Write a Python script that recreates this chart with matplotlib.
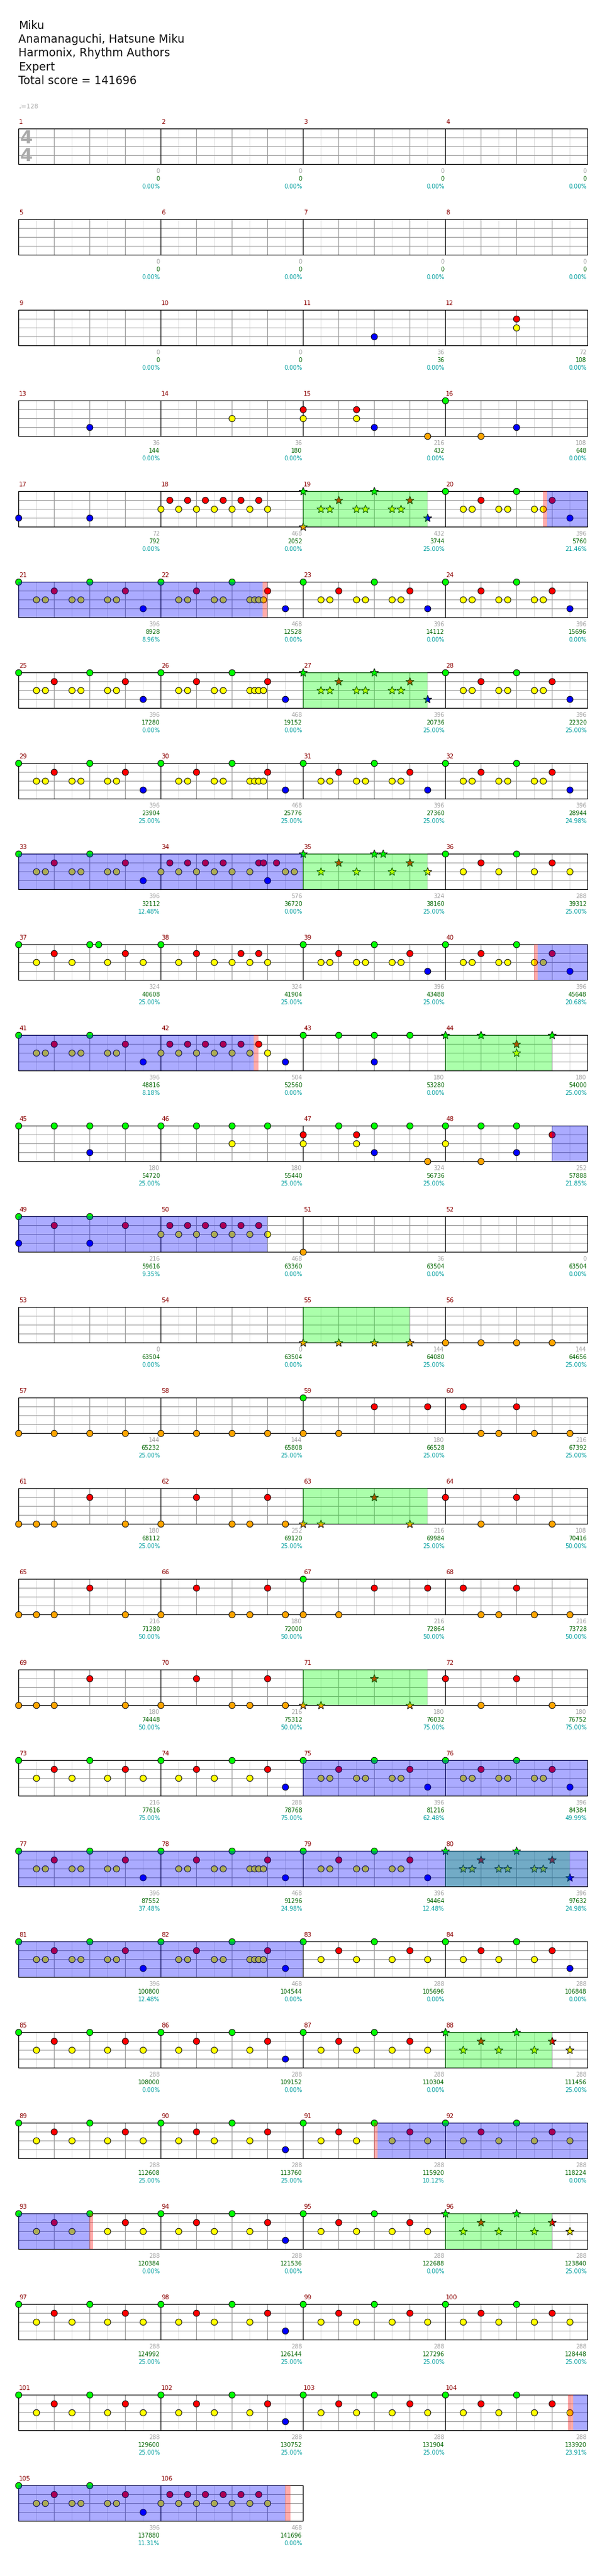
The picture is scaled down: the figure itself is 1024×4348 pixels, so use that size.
import matplotlib
matplotlib.use("Agg")
import matplotlib.pyplot as plt
from matplotlib.patches import Rectangle

# page geometry (pixels)
W, H = 1024, 4348
LEFT_PX = 31      # left edge of the staves
BEAT_PX = 60      # one quarter note
LANE_PX = 15      # gap between lanes
TOP_PX = 217.3    # top of the first staff
ROW_PX = 153      # distance between staves
ROW_U = ROW_PX / LANE_PX

song = "Miku"
artist = "Anamanaguchi, Hatsune Miku"
charter = "Harmonix, Rhythm Authors"
difficulty = "Expert"
total_score = 141696
tempo = 128
n_measures = 106
per_row = 4

lane_names = "GRYBO"
lane_colors = ["#00ff00", "#ff0000", "#ffff00", "#0000ff", "#ffa500"]

# recurring patterns: (beat in measure, lanes)
pat_p = [(0, "G"), (0.5, "Y"), (0.75, "Y"), (1, "R"), (1.5, "Y"), (1.75, "Y"),
         (2, "G"), (2.5, "Y"), (2.75, "Y"), (3, "R"), (3.5, "B")]
pat_q = [(0, "G"), (0.5, "Y"), (0.75, "Y"), (1, "R"), (1.5, "Y"), (1.75, "Y"),
         (2, "G"), (2.5, "Y"), (2.625, "Y"), (2.75, "Y"), (2.875, "Y"), (3, "R"), (3.5, "B")]
pat_t = [(0, "Y"), (0.25, "R"), (0.5, "Y"), (0.75, "R"), (1, "Y"), (1.25, "R"), (1.5, "Y"),
         (1.75, "R"), (2, "Y"), (2.25, "R"), (2.5, "Y"), (2.75, "R"), (3, "Y")]
pat_s = [(0, "G"), (0.5, "Y"), (1, "R"), (1.5, "Y"), (2, "G"), (2.5, "Y"), (3, "R"), (3.5, "Y")]
pat_sb = [(0, "G"), (0.5, "Y"), (1, "R"), (1.5, "Y"), (2, "G"), (2.5, "Y"), (3, "R"), (3.5, "B")]
pat_v = [(0, "G"), (0.5, "Y"), (1, "R"), (1.5, "Y"), (2, "G"), (2.25, "G"), (2.5, "Y"), (3, "R"), (3.5, "Y")]
pat_34 = [(0, "Y"), (0.25, "R"), (0.5, "Y"), (0.75, "R"), (1, "Y"), (1.25, "R"), (1.5, "Y"), (1.75, "R"),
          (2, "Y"), (2.5, "Y"), (2.75, "R"), (2.875, "R"), (3, "B"), (3.25, "R"), (3.5, "Y"), (3.75, "Y")]
pat_38 = [(0, "G"), (0.5, "Y"), (1, "R"), (1.5, "Y"), (2, "Y"), (2.25, "R"), (2.5, "Y"), (2.75, "R"), (3, "Y")]
pat_orange4 = [(0, "O"), (1, "O"), (2, "O"), (3, "O")]
pat_oa = [(0, "O"), (0.5, "O"), (1, "O"), (2, "R"), (3, "O")]
pat_ob = [(0, "O"), (1, "R"), (2, "O"), (2.5, "O"), (3, "R"), (3.5, "O")]
pat_oc = [(0, "O"), (0.5, "O"), (2, "R"), (3, "O")]
pat_od = [(0, "R"), (1, "O"), (2, "R"), (3, "O")]

measure_notes = {
    11: [(2, "B")], 12: [(2, "RY")], 13: [(2, "B")], 14: [(2, "Y")],
    15: [(0, "RY"), (1.5, "RY"), (2, "B"), (3.5, "O")], 16: [(0, "G"), (1, "O"), (2, "B")],
    17: [(0, "B"), (2, "B")], 18: pat_t, 19: [(0, "GO")] + pat_p[1:], 20: pat_p,
    21: pat_p, 22: pat_q, 23: pat_p, 24: pat_p,
    25: pat_p, 26: pat_q, 27: pat_p, 28: pat_p,
    29: pat_p, 30: pat_q, 31: pat_p, 32: pat_p,
    33: pat_p, 34: pat_34, 35: pat_v, 36: pat_s,
    37: pat_v, 38: pat_38, 39: pat_p, 40: pat_p,
    41: pat_p, 42: pat_t + [(3.5, "B")], 43: [(0, "G"), (1, "G"), (2, "GB"), (3, "G")],
    44: [(0, "G"), (1, "G"), (2, "RY"), (3, "G")],
    45: [(0, "G"), (1, "G"), (2, "GB"), (3, "G")], 46: [(0, "G"), (1, "G"), (2, "GY"), (3, "G")],
    47: [(0, "RY"), (1, "G"), (1.5, "RY"), (2, "GB"), (3, "G"), (3.5, "O")],
    48: [(0, "GY"), (1, "GO"), (2, "GB"), (3, "R")],
    49: [(0, "GB"), (1, "R"), (2, "GB"), (3, "R")], 50: pat_t, 51: [(0, "O")],
    55: pat_orange4, 56: pat_orange4, 57: pat_orange4, 58: pat_orange4,
    59: [(0, "GO"), (1, "O"), (2, "R"), (3.5, "R")],
    60: [(0.5, "R"), (1, "O"), (1.5, "O"), (2, "R"), (2.5, "O"), (3.5, "O")],
    61: pat_oa, 62: pat_ob, 63: pat_oc, 64: pat_od,
    65: pat_oa, 66: pat_ob, 67: [(0, "GO"), (1, "O"), (2, "R"), (3.5, "R")],
    68: [(0.5, "R"), (1, "O"), (1.5, "O"), (2, "R"), (2.5, "O"), (3.5, "O")],
    69: pat_oa, 70: pat_ob, 71: pat_oc, 72: pat_od,
    73: pat_s, 74: pat_sb, 75: pat_p, 76: pat_p,
    77: pat_p, 78: pat_q, 79: pat_p, 80: pat_p,
    81: pat_p, 82: pat_q, 83: pat_s, 84: pat_sb,
    85: pat_s, 86: pat_sb, 87: pat_s, 88: pat_s,
    89: pat_s, 90: pat_sb, 91: pat_s, 92: pat_s,
    93: pat_s, 94: pat_sb, 95: pat_s, 96: pat_s,
    97: pat_s, 98: pat_sb, 99: pat_s, 100: pat_s,
    101: pat_s, 102: pat_sb, 103: pat_s, 104: pat_s,
    105: pat_p, 106: pat_t,
}
star_measures = [19, 27, 35, 44, 55, 63, 71, 80, 88, 96]

# spans in beats from the start of the song
sp_phrases = [(72, 75.5), (104, 107.5), (136, 139.5), (172, 175), (216, 219),
              (248, 251.5), (280, 283.5), (316, 319.5), (348, 351), (380, 383)]
activations = [(78.87, 86.87), (128, 136), (158.6, 166.61), (191, 199),
               (296, 328), (362.1, 370), (415.6, 423.5)]
squeezes = [(78.755, 78.87), (86.87, 87.0), (158.5, 158.6), (166.61, 166.75),
            (362.0, 362.1), (370, 370.1), (415.45, 415.6), (423.5, 423.65)]

base_score = [0, 0, 0, 0, 0, 0, 0, 0, 0, 0, 36, 72, 36, 36, 216, 108,
              72, 468, 432, 396, 396, 468, 396, 396, 396, 468, 396, 396, 396, 468, 396, 396,
              396, 576, 324, 288, 324, 324, 396, 396, 396, 504, 180, 180, 180, 180, 324, 252,
              216, 468, 36, 0, 0, 0, 144, 144, 144, 144, 180, 216,
              180, 252, 216, 108, 216, 180, 216, 216, 180, 216, 180, 180,
              216, 288, 396, 396, 396, 468, 396, 396, 396, 468, 288, 288,
              288, 288, 288, 288, 288, 288, 288, 288, 288, 288, 288, 288,
              288, 288, 288, 288, 288, 288, 288, 288, 396, 468]
running_score = [0, 0, 0, 0, 0, 0, 0, 0, 0, 0, 36, 108, 144, 180, 432, 648,
                 792, 2052, 3744, 5760, 8928, 12528, 14112, 15696, 17280, 19152, 20736, 22320,
                 23904, 25776, 27360, 28944, 32112, 36720, 38160, 39312, 40608, 41904, 43488, 45648,
                 48816, 52560, 53280, 54000, 54720, 55440, 56736, 57888, 59616, 63360, 63504, 63504,
                 63504, 63504, 64080, 64656, 65232, 65808, 66528, 67392,
                 68112, 69120, 69984, 70416, 71280, 72000, 72864, 73728, 74448, 75312, 76032, 76752,
                 77616, 78768, 81216, 84384, 87552, 91296, 94464, 97632, 100800, 104544, 105696, 106848,
                 108000, 109152, 110304, 111456, 112608, 113760, 115920, 118224, 120384, 121536, 122688,
                 123840, 124992, 126144, 127296, 128448, 129600, 130752, 131904, 133920, 137880, 141696]
sp_percent = [0] * 18 + [25.00, 21.46, 8.96, 0, 0, 0, 0, 0, 25, 25, 25, 25, 25, 24.98, 12.48, 0,
                         25, 25, 25, 25, 25, 20.68, 8.18, 0, 0, 25, 25, 25, 25, 21.85, 9.35, 0,
                         0, 0, 0, 0, 25, 25, 25, 25, 25, 25,
                         25, 25, 25, 50, 50, 50, 50, 50, 50, 50, 75, 75,
                         75, 75, 62.48, 49.99, 37.48, 24.98, 12.48, 24.98, 12.48, 0, 0, 0,
                         0, 0, 0, 25, 25, 25, 10.12, 0, 0, 0, 0, 25,
                         25, 25, 25, 25, 25, 25, 25, 23.91, 11.31, 0]

fig = plt.figure(figsize=(W / 100, H / 100), dpi=100)
ax = fig.add_axes([0, 0, 1, 1])
# x in beats within a row, y in lanes (each row is ROW_U lanes lower)
ax.set_xlim(-LEFT_PX / BEAT_PX, (W - LEFT_PX) / BEAT_PX)
ax.set_ylim((H - TOP_PX) / LANE_PX, -TOP_PX / LANE_PX)
ax.axis("off")

# header
header = [song, artist, charter, difficulty, f"Total score = {total_score}"]
for i, line in enumerate(header):
    fig.text(31 / W, 1 - (49 + 23.2 * i) / H, line, fontsize=13.5, color="#111111",
             va="baseline", ha="left")
fig.text(31 / W, 1 - 180 / H, f"\u2669={tempo}", fontsize=7.5, color="#aaaaaa",
         va="center", ha="left")

n_rows = (n_measures + per_row - 1) // per_row
for r in range(n_rows):
    first = r * per_row + 1
    nm = min(per_row, n_measures - first + 1)
    y0 = r * ROW_U
    width = 4 * nm
    for k in range(1, 8 * nm):
        xb = k * 0.5
        if k % 8 == 0:
            c, z = "black", 2
        elif k % 2 == 0:
            c, z = "#999999", 1.5
        else:
            c, z = "#dddddd", 1
        ax.plot([xb, xb], [y0, y0 + 4], color=c, lw=0.8, zorder=z)
    for lane in (1, 2, 3):
        ax.plot([0, width], [y0 + lane, y0 + lane], color="#999999", lw=0.8, zorder=1.6)
    ax.add_patch(Rectangle((0, y0), width, 4, fill=False, ec="black", lw=0.9, zorder=2.5))
    for j in range(nm):
        m = first + j
        ax.text(4 * j + 0.02, y0 - 0.73, str(m), fontsize=7.5, color="#8b0000",
                ha="left", va="center")
        xe = 4 * (j + 1) - 0.02
        ax.text(xe, y0 + 4.8, str(base_score[m - 1]), fontsize=7, color="#a0a0a0",
                ha="right", va="center")
        ax.text(xe, y0 + 5.67, str(running_score[m - 1]), fontsize=7, color="#006400",
                ha="right", va="center")
        ax.text(xe, y0 + 6.53, f"{sp_percent[m - 1]:.2f}%", fontsize=7, color="#009e9e",
                ha="right", va="center")

# time signature
for yy in (1.05, 3.05):
    ax.text(0.22, yy, "4", fontsize=22, color="#aaaaaa", fontweight="bold",
            ha="center", va="center", zorder=2.6)

# notes
for m, notes in measure_notes.items():
    r, j = divmod(m - 1, per_row)
    star = m in star_measures
    for beat, lanes in notes:
        for ch in lanes:
            li = lane_names.index(ch)
            ax.plot(4 * j + beat, r * ROW_U + li, marker="*" if star else "o",
                    markersize=10.5 if star else 7.6, markerfacecolor=lane_colors[li],
                    markeredgecolor="black", markeredgewidth=0.7, zorder=3)


def shade(spans, color):
    for a, b in spans:
        for r in range(n_rows):
            lo, hi = max(a, 16 * r), min(b, 16 * r + 16)
            if hi > lo:
                ax.add_patch(Rectangle((lo - 16 * r, r * ROW_U), hi - lo, 4, facecolor=color,
                                       alpha=0.33, edgecolor="none", zorder=4))


shade(sp_phrases, "#00ff00")
shade(activations, "#0000ff")
shade(squeezes, "#ff0000")

fig.savefig("out.png", dpi=100)
